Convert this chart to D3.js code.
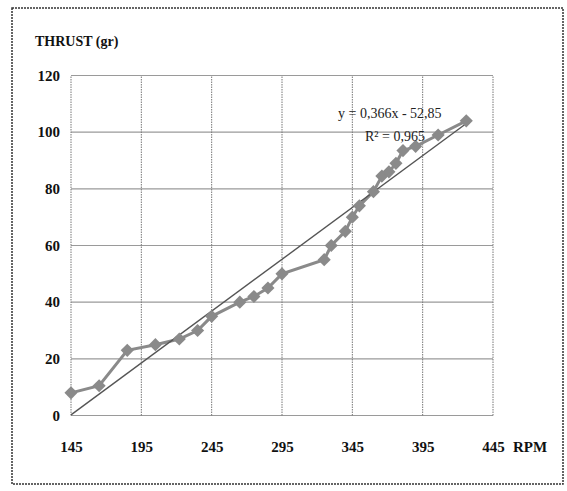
<!DOCTYPE html>
<html><head><meta charset="utf-8">
<script src="https://cdn.jsdelivr.net/npm/d3@7"></script>
<style>body{margin:0;background:#fff}svg{display:block}text{font-family:"Liberation Serif","Times New Roman",serif}</style>
</head><body>
<script>
const rpm    = [145,165,185,205,222,235,245,265,275,285,295,325,330,340,345,350,360,366,371,376,381,390,406,426];
const thrust = [8,10.5,23,25,27,30,35,40,42,45,50,55,60,65,70,74,79,84.5,86,89,93.5,95,99,104];
const xTicks = [145,195,245,295,345,395,445];
const yTicks = [0,20,40,60,80,100,120];
const slope = 0.366, intercept = -52.85;
const eqText = "y = 0,366x - 52,85";
const r2Text = "R² = 0,965";

const W=567,H=491;
const svg=d3.select("body").append("svg").attr("width",W).attr("height",H);
svg.append("rect").attr("x",12).attr("y",8).attr("width",551).attr("height",476)
  .attr("fill","none").attr("stroke","#333").attr("stroke-width",1.5).attr("stroke-dasharray","2,1");

const x=d3.scaleLinear().domain([145,445]).range([71,493]);
const y=d3.scaleLinear().domain([0,120]).range([415.5,75.5]);

// grid
svg.append("g").selectAll("line").data(yTicks).join("line")
  .attr("x1",x(145)).attr("x2",x(445)).attr("y1",d=>y(d)).attr("y2",d=>y(d))
  .attr("stroke","#9a9a9a").attr("stroke-width",1.2);
svg.append("g").selectAll("line").data(xTicks).join("line")
  .attr("y1",y(0)).attr("y2",y(120)).attr("x1",d=>x(d)).attr("x2",d=>x(d))
  .attr("stroke","#777").attr("stroke-width",1).attr("stroke-dasharray","1.5,1");

// axes labels
const xa=d3.axisBottom(x).tickValues(xTicks).tickSize(0).tickPadding(0);
const gx=svg.append("g").attr("transform",`translate(0,${y(0)})`).call(xa);
gx.select(".domain").remove();
gx.selectAll("text").attr("dy",0).attr("y",36).attr("font-size",15).attr("font-weight","bold")
  .attr("fill","#111").style("font-family","'Liberation Serif',serif");
const ya=d3.axisLeft(y).tickValues(yTicks).tickSize(0).tickPadding(0);
const gy=svg.append("g").attr("transform",`translate(60,0)`).call(ya);
gy.select(".domain").remove();
gy.selectAll("text").attr("font-size",15).attr("font-weight","bold")
  .attr("fill","#111").style("font-family","'Liberation Serif',serif");

svg.append("text").attr("x",35).attr("y",46).attr("font-size",14).attr("font-weight","bold")
  .attr("fill","#111").text("THRUST (gr)");
svg.append("text").attr("x",513).attr("y",y(0)+36).attr("font-size",15).attr("font-weight","bold")
  .attr("fill","#111").text("RPM");

// series
const pts=rpm.map((r,i)=>[r,thrust[i]]);
svg.append("path").datum(pts).attr("fill","none").attr("stroke","#8a8a8a").attr("stroke-width",3)
  .attr("d",d3.line().x(d=>x(d[0])).y(d=>y(d[1])));
// trend
const xmin=d3.min(rpm),xmax=d3.max(rpm);
svg.append("path").datum([xmin,xmax]).attr("fill","none").attr("stroke","#555").attr("stroke-width",1.4)
  .attr("d",d3.line().x(d=>x(d)).y(d=>y(slope*d+intercept)));
// markers
svg.append("g").selectAll("path").data(pts).join("path")
  .attr("transform",d=>`translate(${x(d[0])},${y(d[1])})`)
  .attr("d",d3.symbol().type(d3.symbolDiamond2).size(110))
  .attr("fill","#8a8a8a");

svg.append("text").attr("x",338).attr("y",118).attr("font-size",14).attr("fill","#222").text(eqText);
svg.append("text").attr("x",365).attr("y",141).attr("font-size",14).attr("fill","#222").text(r2Text);
</script>
</body></html>
